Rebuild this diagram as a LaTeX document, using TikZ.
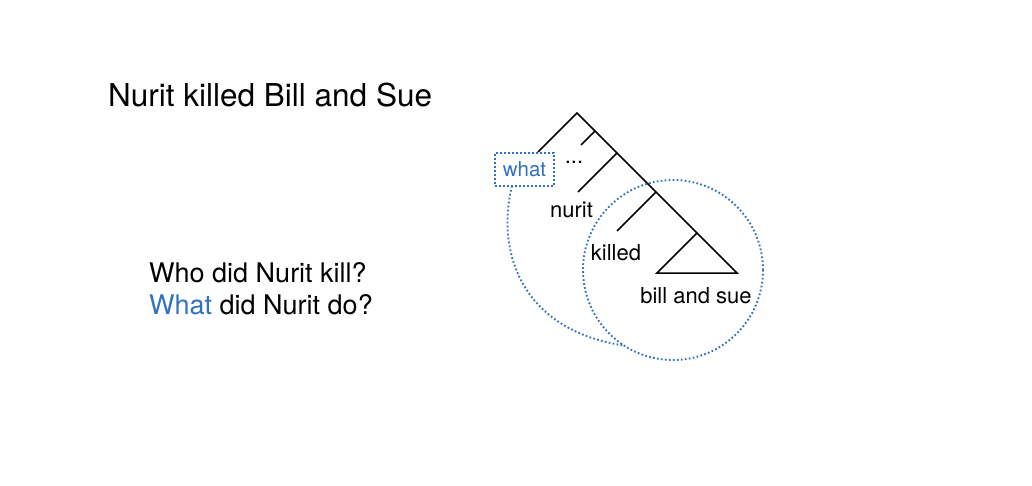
\documentclass[tikz,border=0pt]{standalone}
\usepackage{fontspec}
\setmainfont{TeX Gyre Heros}
\definecolor{wblue}{RGB}{50,112,192}
\begin{document}
\begin{tikzpicture}[x=1pt,y=-1pt,
  treeline/.style={line width=1.5pt, black},
  dotblue/.style={draw=wblue, line width=1.9pt, dash pattern=on 1.7pt off 2.3pt},
  lbl/.style={font=\fontsize{22}{26}\selectfont, inner sep=0, anchor=base},
  bigtxt/.style={font=\fontsize{31.5}{37}\selectfont, inner sep=0, anchor=base west},
  qtxt/.style={font=\fontsize{27}{32}\selectfont, inner sep=0, anchor=base west}]
\useasboundingbox (0,0) rectangle (1032,486);
% texts
\node[bigtxt] (title) at (108,107) {Nurit killed Bill and Sue};
\node[qtxt] (q1) at (149,282) {Who did Nurit kill?};
\node[qtxt] (q2) at (149,314) {\textcolor{wblue}{What} did Nurit do?};
% tree coordinates
\coordinate (root) at (577,113);
\coordinate (lend) at (538,152);
\coordinate (s1) at (595,131);
\coordinate (b1) at (581,145);
\coordinate (s2) at (617,153);
\coordinate (b2) at (578,192);
\coordinate (s3) at (656,192);
\coordinate (b3) at (617,231);
\coordinate (s4) at (697,233);
\coordinate (tl) at (657,273);
\coordinate (tr) at (737,273);
\draw[treeline] (lend) -- (root) -- (tr) -- (tl) -- (s4);
\draw[treeline] (s1) -- (b1);
\draw[treeline] (s2) -- (b2);
\draw[treeline] (s3) -- (b3);
% labels
\node[lbl] (dots) at (574,164) {...};
\node[lbl] (nurit) at (571.5,218) {nurit};
\node[lbl] (killed) at (616,260) {killed};
\node[lbl] (bas) at (696,303) {bill and sue};
% what box
\node[dotblue, minimum width=59pt, minimum height=33pt, inner sep=0, outer sep=0,
  text=wblue, font=\fontsize{20.5}{24}\selectfont] (what) at (524.5,169.5) {what};
% circle
\node[dotblue, circle, minimum size=180pt, inner sep=0, outer sep=0] (circ) at (673,270) {};
% connecting curve
\draw[dotblue] ([xshift=-12.5pt]what.south) .. controls (496,250) and (520,330) .. (circ.237);
\end{tikzpicture}
\end{document}
